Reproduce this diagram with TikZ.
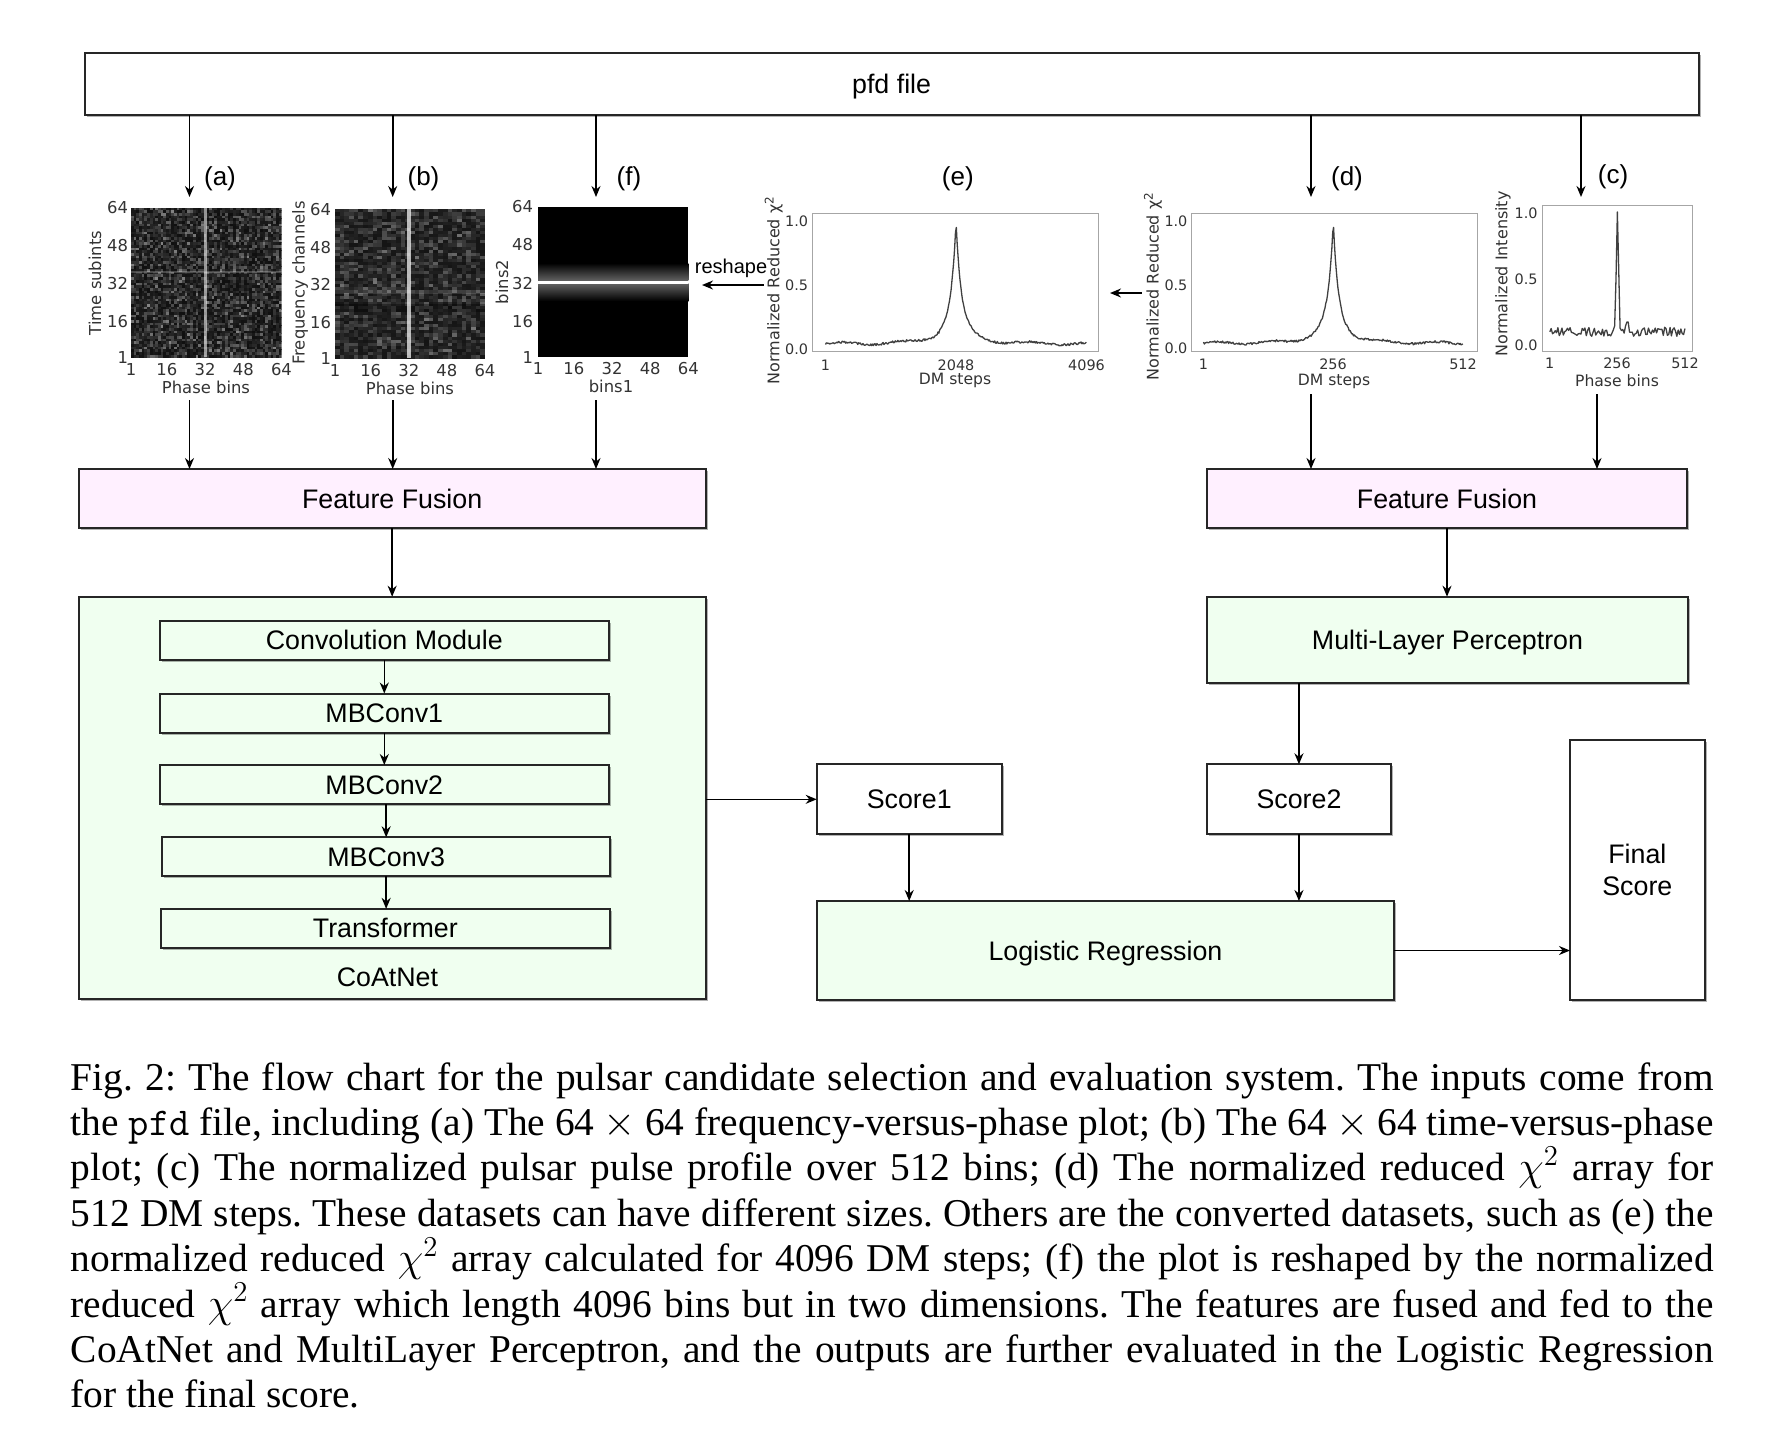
\documentclass[tikz,border=0pt]{standalone}
\usepackage{fontspec}
\setmainfont{Liberation Serif}
\newfontfamily\arialf{Liberation Sans}
\newfontfamily\dejaf{DejaVu Sans}
\usetikzlibrary{arrows.meta,shadows,calc}
\definecolor{fgreen}{HTML}{F0FFF0}
\definecolor{fpink}{HTML}{FFF0FF}
\tikzset{
  every node/.style={inner sep=0pt, outer sep=0pt},
  boxbase/.style={draw=black!85, line width=1pt, font=\arialf\fontsize{13.4}{15.85}\selectfont, align=center},
  box/.style={boxbase, text height=9.6pt, text depth=0pt},
  shad/.style={drop shadow={shadow xshift=1pt, shadow yshift=-1pt, fill=black, opacity=0.3}},
  arr/.style={-{Stealth[length=5.5pt,width=4.5pt]}, line width=0.8pt},
  lab/.style={font=\arialf\fontsize{13}{15}\selectfont},
  ticka/.style={font=\dejaf\fontsize{8.2}{9}\selectfont, text=black!80},
  tickb/.style={font=\dejaf\fontsize{7.2}{8}\selectfont, text=black!80},
  axlab/.style={font=\dejaf\fontsize{8}{9}\selectfont, text=black!80},
  pframe/.style={draw=black!35, line width=0.5pt},
  curve/.style={draw=black!75, line width=0.65pt, line join=round},
}
\begin{document}
\begin{tikzpicture}[x=0.5pt,y=-0.5pt]
\useasboundingbox (0,0) rectangle (1790,1448);
\pgfmathsetseed{7}

% ---------- top box ----------
\node[box, fill=white, shad, minimum width=807.1pt, minimum height=31.4pt] (pfd) at (891.6,83.9) {pfd file};

% ---------- arrows from pfd ----------
\foreach \n/\x in {a/189.5, b/392.7, f/596, d/1311, c/1581}{
  \coordinate (t\n) at (\x,197);
  \draw[arr] (pfd.south -| t\n) -- (t\n);
}
\node[lab] (la) at (220,179) {(a)};
\node[lab] (lb) at (423.5,179) {(b)};
\node[lab] (lf) at (629,179) {(f)};
\node[lab] (le) at (957.8,179) {(e)};
\node[lab] (ld) at (1347,179) {(d)};
\node[lab] (lc) at (1613,177) {(c)};

% ---------- plot (a) ----------
\begin{scope}
\clip (131,207.7) rectangle (281.5,357.3);
\foreach \i in {0,...,55}{\foreach \j in {0,...,55}{%
  \pgfmathsetmacro\w{6+48*rnd*rnd}%
  \fill[white!\w!black] ({131+2.6875*\i},{207.7+2.6714*\j}) rectangle ++(2.95,2.95);}}
\fill[white,opacity=.22] (131,270.5) rectangle (281.5,273);
\fill[white,opacity=.55] (203.5,207.7) rectangle (206.8,357.3);
\end{scope}
\foreach \v in {1,16,32,48,64}{
  \node[ticka, anchor=east] (ay\v) at (128,{357.3-(\v-1)/63*149.6}) {\v};
  \node[ticka] (ax\v) at ({131+(\v-1)/63*150.5},370) {\v};
}
\node[ticka] (axl) at (206,387) {Phase bins};
\node[ticka, rotate=90] (ayl) at (95,283) {Time subints};

% ---------- plot (b) ----------
\begin{scope}
\clip (335,209.3) rectangle (485,358.3);
\foreach \i in {0,...,31}{\foreach \j in {0,...,47}{%
  \pgfmathsetmacro\w{8+38*rnd*rnd}%
  \fill[white!\w!black] ({335+4.6875*\i},{209.3+3.104*\j}) rectangle ++(5,3.4);}}
\fill[black,opacity=.35] (335,304) rectangle (485,312);
\fill[white,opacity=.12] (335,290) rectangle (485,294);
\fill[white,opacity=.7] (407,209.3) rectangle (411,358.3);
\end{scope}
\foreach \v in {1,16,32,48,64}{
  \node[ticka, anchor=east] (by\v) at (331,{358.3-(\v-1)/63*149}) {\v};
  \node[ticka] (bx\v) at ({335+(\v-1)/63*150},371) {\v};
}
\node[ticka] (bxl) at (410,388) {Phase bins};
\node[ticka, rotate=90] (byl) at (300,283) {Frequency channels};

% ---------- plot (f) ----------
\fill[black] (538,206.6) rectangle (688.4,357.3);
\shade[top color=black, bottom color=black!62] (538,263) rectangle (688.4,280.5);
\shade[top color=black!62, bottom color=black] (538,283.5) rectangle (688.4,301);
\fill[white] (538,280.5) rectangle (688.4,283.5);
\foreach \v in {1,16,32,48,64}{
  \node[ticka, anchor=east] (fy\v) at (533,{357.3-(\v-1)/63*150.7}) {\v};
  \node[ticka] (fx\v) at ({538+(\v-1)/63*150.4},369) {\v};
}
\node[ticka] (fxl) at (611,386) {bins1};
\node[ticka, rotate=90] (fyl) at (502,282) {bins2};

% reshape arrow
\coordinate (rs1) at (763.5,285);
\coordinate (rs2) at (702,285);
\draw[arr] (rs1) -- (rs2);
\node[font=\arialf\fontsize{10}{12}\selectfont] (rsl) at (731,268) {reshape};

% ---------- plot (e) ----------
\draw[pframe] (812.8,213.5) rectangle (1098.2,351.6);
\draw[curve] plot[domain=0:1, samples=300, variable=\t] ({825.5+261*\t}, {349-128.3*(0.03+0.01*sin(1500*\t)+0.6*exp(max(-abs(\t-0.5)/0.012,-9))+0.37/(1+((\t-0.5)/0.04)^2)+0.018*rnd)});
\foreach \v/\y/\k in {1.0/221.7/1, 0.5/285.4/2, 0.0/349/3}{
  \node[tickb, anchor=east] (ey\k) at (808,\y) {\v};
}
\node[tickb] (ex1) at (825.5,365) {1};
\node[tickb] (ex2) at (956,365) {2048};
\node[tickb] (ex3) at (1086.5,365) {4096};
\node[axlab, font=\dejaf\fontsize{7.8}{9}\selectfont] (exl) at (955,380) {DM steps};
\node[axlab, rotate=90] (eyl) at (773.7,290) {Normalized Reduced χ\textsuperscript{2}};

% d -> e arrow
\coordinate (de1) at (1141.6,293);
\coordinate (de2) at (1110,293);
\draw[arr] (de1) -- (de2);

% ---------- plot (d) ----------
\draw[pframe] (1191,213.5) rectangle (1477,351.6);
\draw[curve] plot[domain=0:1, samples=300, variable=\t] ({1203.5+259.5*\t}, {348.3-126.6*(0.03+0.01*sin(1700*\t)+0.6*exp(max(-abs(\t-0.5)/0.012,-9))+0.37/(1+((\t-0.5)/0.04)^2)+0.018*rnd)});
\foreach \v/\y/\k in {1.0/221.7/1, 0.5/285/2, 0.0/348.3/3}{
  \node[tickb, anchor=east] (dy\k) at (1187.4,\y) {\v};
}
\node[tickb] (dx1) at (1203.5,364) {1};
\node[tickb] (dx2) at (1333,364) {256};
\node[tickb] (dx3) at (1463,364) {512};
\node[axlab, font=\dejaf\fontsize{7.8}{9}\selectfont] (dxl) at (1334,381) {DM steps};
\node[axlab, rotate=90] (dyl) at (1153,286) {Normalized Reduced χ\textsuperscript{2}};

% ---------- plot (c) ----------
\draw[pframe] (1542.7,205.3) rectangle (1692.7,351.7);
\draw[curve] plot[domain=0:1, samples=101, variable=\t] ({1549.8+135.2*\t}, {345.7-132.4*(0.07+0.07*rnd+0.88*exp(max(-((\t-0.5)/0.012)^2,-9))+0.07*exp(max(-((\t-0.57)/0.015)^2,-9)))});
\foreach \v/\y/\k in {1.0/213.3/1, 0.5/279.5/2, 0.0/345.7/3}{
  \node[tickb, anchor=east] (cy\k) at (1537.6,\y) {\v};
}
\node[tickb] (cx1) at (1549.8,363) {1};
\node[tickb] (cx2) at (1617,363) {256};
\node[tickb] (cx3) at (1685,363) {512};
\node[axlab, font=\dejaf\fontsize{7.8}{9}\selectfont] (cxl) at (1617,381) {Phase bins};
\node[axlab, rotate=90] (cyl) at (1503,274) {Normalized Intensity};

% ---------- feature fusion ----------
\node[box, fill=fpink, shad, minimum width=313.35pt, minimum height=29.7pt] (ffl) at (392.15,498.7) {Feature Fusion};
\node[box, fill=fpink, shad, minimum width=240.3pt, minimum height=29.7pt] (ffr) at (1447,498.7) {Feature Fusion};
\foreach \n/\x/\y in {a/189.5/400, b/392.7/400, f/596/400}{
  \coordinate (b\n) at (\x,\y);
  \draw[arr] (b\n) -- (b\n |- ffl.north);
}
\foreach \n/\x/\y in {d/1311/394, c/1597/394}{
  \coordinate (b\n) at (\x,\y);
  \draw[arr] (b\n) -- (b\n |- ffr.north);
}

% ---------- CoAtNet ----------
\node[box, fill=fgreen, shad, minimum width=313.45pt, minimum height=201.3pt] (coat) at (392.55,798) {};
\node[box, draw=none] (coatl) at (387.4,976.7) {CoAtNet};
\node[box, fill=fgreen, shad, minimum width=224.3pt, minimum height=19.5pt] (conv) at (384.3,640.35) {Convolution Module};
\node[box, fill=fgreen, shad, minimum width=224.3pt, minimum height=19.5pt] (mb1) at (384.3,713) {MBConv1};
\node[box, fill=fgreen, shad, minimum width=224.3pt, minimum height=19.5pt] (mb2) at (384.3,784.5) {MBConv2};
\node[box, fill=fgreen, shad, minimum width=224.3pt, minimum height=19.5pt] (mb3) at (386.15,856.8) {MBConv3};
\node[box, fill=fgreen, shad, minimum width=224.3pt, minimum height=19.5pt] (trf) at (385.35,928.35) {Transformer};
\draw[arr] (conv.south) -- (mb1.north);
\draw[arr] (mb1.south) -- (mb1.south |- mb2.north);
\draw[arr] (mb2.south -| mb3) -- (mb3.north);
\draw[arr] (mb3.south) -- (mb3.south |- trf.north);
\draw[arr] (ffl.south) -- (ffl.south |- coat.north);

% ---------- right side ----------
\node[box, fill=fgreen, shad, minimum width=240.7pt, minimum height=43.3pt] (mlp) at (1447.5,640) {Multi-Layer Perceptron};
\draw[arr] (ffr.south) -- (ffr.south |- mlp.north);
\node[box, fill=white, shad, minimum width=92.5pt, minimum height=35pt] (s1) at (909.2,799.3) {Score1};
\node[box, fill=white, shad, minimum width=92.15pt, minimum height=35pt] (s2) at (1298.95,799.3) {Score2};
\node[box, fill=fgreen, shad, minimum width=288.75pt, minimum height=49.5pt] (lr) at (1105.45,950.5) {Logistic Regression};
\node[boxbase, fill=white, shad, minimum width=67.35pt, minimum height=130pt] (fin) at (1637.35,870) {Final\\Score};
\draw[arr] (coat.east |- s1.west) -- (s1.west);
\draw[arr] (mlp.south -| s2.north) -- (s2.north);
\draw[arr] (s1.south) -- (s1.south |- lr.north);
\draw[arr] (s2.south) -- (s2.south |- lr.north);
\draw[arr] (lr.east) -- (lr.east -| fin.west);

% ---------- caption ----------
\node[anchor=base west, font=\fontsize{19.7}{22.7}\selectfont] (cap) at (70.8,1090) {\parbox[t]{821.4pt}{\frenchspacing%
\hbox to\hsize{Fig. 2: The flow chart for the pulsar candidate selection and evaluation system. The inputs come from}
\hbox to\hsize{the \texttt{pfd} file, including (a) The 64${}\times{}$64 frequency-versus-phase plot; (b) The 64${}\times{}$64 time-versus-phase}
\hbox to\hsize{plot; (c) The normalized pulsar pulse profile over 512 bins; (d) The normalized reduced $\chi^2$ array for}
\hbox to\hsize{512 DM steps. These datasets can have different sizes. Others are the converted datasets, such as (e) the}
\hbox to\hsize{normalized reduced $\chi^2$ array calculated for 4096 DM steps; (f) the plot is reshaped by the normalized}
\hbox to\hsize{reduced $\chi^2$ array which length 4096 bins but in two dimensions. The features are fused and fed to the}
\hbox to\hsize{CoAtNet and MultiLayer Perceptron, and the outputs are further evaluated in the Logistic Regression}
\hbox{for the final score.}}};
\end{tikzpicture}
\end{document}
